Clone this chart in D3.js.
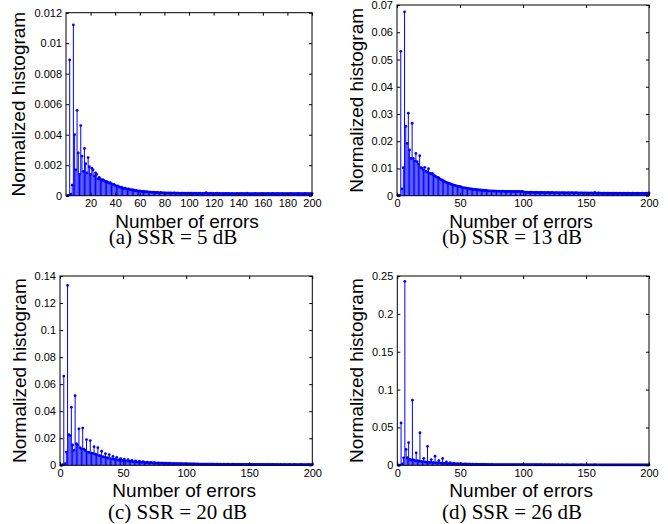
<!DOCTYPE html>
<html>
<head>
<meta charset="utf-8">
<script src="https://cdn.jsdelivr.net/npm/d3@7"></script>
<style>
  body { margin: 0; background: #fff; }
  text { fill: #000; }
</style>
</head>
<body>
<script>
// number of errors on the x axis: 1 .. 200
var errorCounts = d3.range(1, 201);

// normalized histogram, SSR = 5 dB
var histSSR5 = [
  0, 0.00002, 0.0089, 0.0001, 0.0007, 0.0112, 0.0040, 0.0017, 0.0056, 0.0028,
  0.0014, 0.0046, 0.0026, 0.0016, 0.0031, 0.0021, 0.0015, 0.0025, 0.0019, 0.0014,
  0.0018, 0.0017, 0.0013, 0.0015, 0.0014, 0.0011, 0.0012, 0.0011, 0.00100, 0.00105,
  0.00098, 0.00092, 0.00094, 0.00088, 0.00083, 0.00085, 0.00078, 0.00072, 0.00074, 0.00068,
  0.00063, 0.00064, 0.00059, 0.00055, 0.00056, 0.00051, 0.00048, 0.00049, 0.00045, 0.00043,
  0.00044, 0.00040, 0.00038, 0.00039, 0.00036, 0.00034, 0.00035, 0.00032, 0.00030, 0.00031,
  0.00029, 0.00027, 0.00028, 0.00026, 0.00025, 0.00026, 0.00024, 0.00023, 0.00024, 0.00022,
  0.00023, 0.00021, 0.00020, 0.00022, 0.00020, 0.00019, 0.00021, 0.00019, 0.00018, 0.00019,
  0.00018, 0.00017, 0.00019, 0.00017, 0.00018, 0.00016, 0.00017, 0.00018, 0.00016, 0.00017,
  0.00016, 0.00017, 0.00015, 0.00016, 0.00017, 0.00015, 0.00016, 0.00015, 0.00016, 0.00017,
  0.00015, 0.00016, 0.00014, 0.00016, 0.00015, 0.00016, 0.00014, 0.00015, 0.00016, 0.00014,
  0.00015, 0.00014, 0.00016, 0.00020, 0.00015, 0.00014, 0.00015, 0.00016, 0.00014, 0.00015,
  0.00014, 0.00015, 0.00016, 0.00014, 0.00015, 0.00014, 0.00013, 0.00015, 0.00014, 0.00015,
  0.00014, 0.00015, 0.00013, 0.00014, 0.00015, 0.00014, 0.00013, 0.00014, 0.00015, 0.00014,
  0.00013, 0.00014, 0.00015, 0.00014, 0.00013, 0.00014, 0.00016, 0.00014, 0.00013, 0.00014,
  0.00014, 0.00013, 0.00014, 0.00015, 0.00013, 0.00014, 0.00013, 0.00014, 0.00015, 0.00014,
  0.00013, 0.00014, 0.00013, 0.00015, 0.00014, 0.00013, 0.00014, 0.00015, 0.00014, 0.00013,
  0.00014, 0.00015, 0.00014, 0.00013, 0.00014, 0.00015, 0.00014, 0.00013, 0.00014, 0.00013,
  0.00014, 0.00013, 0.00015, 0.00014, 0.00013, 0.00014, 0.00013, 0.00014, 0.00015, 0.00013,
  0.00014, 0.00013, 0.00014, 0.00015, 0.00013, 0.00014, 0.00013, 0.00014, 0.00013, 0.00014
];

// SSR = 13 dB
var histSSR13 = [
  0, 0.0001, 0.053, 0.0025, 0.0103, 0.0675, 0.0255, 0.0192, 0.0303, 0.0168,
  0.0137, 0.0266, 0.0137, 0.0128, 0.0155, 0.0125, 0.0116, 0.0147, 0.0103, 0.0100,
  0.0094, 0.0104, 0.0090, 0.0087, 0.0099, 0.0083, 0.0080, 0.0082, 0.0076, 0.0073,
  0.0070, 0.0067, 0.0066, 0.0062, 0.0059, 0.0057, 0.0054, 0.0052, 0.0049, 0.0047,
  0.0046, 0.0044, 0.0042, 0.0041, 0.0039, 0.0038, 0.0036, 0.0035, 0.0034, 0.0033,
  0.0032, 0.0030, 0.0029, 0.0029, 0.0028, 0.0027, 0.0026, 0.0025, 0.0025, 0.0024,
  0.0023, 0.0023, 0.0022, 0.0022, 0.0021, 0.0021, 0.0020, 0.0020, 0.0019, 0.0019,
  0.0019, 0.0018, 0.0018, 0.0018, 0.0017, 0.0018, 0.0017, 0.0017, 0.0017, 0.0016,
  0.0017, 0.0016, 0.0016, 0.0017, 0.0016, 0.0016, 0.0015, 0.0016, 0.0016, 0.0015,
  0.0016, 0.0015, 0.0016, 0.0015, 0.0016, 0.0015, 0.0016, 0.0015, 0.0016, 0.0015,
  0.0013, 0.0012, 0.0013, 0.0012, 0.0012, 0.0013, 0.0012, 0.0012, 0.0011, 0.0012,
  0.0012, 0.0011, 0.0012, 0.0011, 0.0012, 0.0011, 0.0012, 0.0011, 0.0011, 0.0012,
  0.0011, 0.0011, 0.0012, 0.0011, 0.0010, 0.0011, 0.0011, 0.0010, 0.0011, 0.0010,
  0.0011, 0.0010, 0.0011, 0.0010, 0.0010, 0.0011, 0.0010, 0.0010, 0.0011, 0.0010,
  0.0010, 0.0011, 0.0010, 0.0010, 0.0009, 0.0010, 0.0010, 0.0009, 0.0010, 0.0009,
  0.0010, 0.0009, 0.0009, 0.0010, 0.0009, 0.0009, 0.0012, 0.0009, 0.0009, 0.0010,
  0.0009, 0.0009, 0.0008, 0.0009, 0.0009, 0.0008, 0.0009, 0.0009, 0.0008, 0.0009,
  0.0008, 0.0009, 0.0008, 0.0009, 0.0008, 0.0008, 0.0009, 0.0008, 0.0008, 0.0009,
  0.0008, 0.0008, 0.0009, 0.0008, 0.0008, 0.0008, 0.0009, 0.0008, 0.0008, 0.0008,
  0.0009, 0.0008, 0.0008, 0.0008, 0.0009, 0.0008, 0.0008, 0.0009, 0.0008, 0.0010
];

// SSR = 20 dB
var histSSR20 = [
  0, 0.0005, 0.066, 0.0012, 0.0098, 0.133, 0.0226, 0.022, 0.043, 0.015,
  0.011, 0.0515, 0.016, 0.015, 0.027, 0.013, 0.012, 0.0275, 0.012, 0.011,
  0.019, 0.0098, 0.0095, 0.0183, 0.009, 0.0088, 0.0138, 0.0082, 0.0078, 0.013,
  0.0072, 0.0069, 0.0104, 0.0064, 0.0061, 0.0086, 0.0057, 0.0054, 0.0079, 0.0050,
  0.0048, 0.0066, 0.0045, 0.0043, 0.0059, 0.0040, 0.0038, 0.0050, 0.0036, 0.0034,
  0.0046, 0.0032, 0.0031, 0.0042, 0.0029, 0.0028, 0.0037, 0.0026, 0.0025, 0.0033,
  0.0024, 0.0023, 0.0030, 0.0022, 0.0021, 0.0027, 0.0020, 0.0019, 0.0024, 0.0019,
  0.0018, 0.0021, 0.0017, 0.0017, 0.0019, 0.0016, 0.0016, 0.0018, 0.0015, 0.0015,
  0.0016, 0.0015, 0.0014, 0.0015, 0.0014, 0.0014, 0.0015, 0.0013, 0.0013, 0.0014,
  0.0013, 0.0012, 0.0013, 0.0012, 0.0012, 0.0013, 0.0012, 0.0011, 0.0012, 0.0011,
  0.0011, 0.0011, 0.0010, 0.0011, 0.0010, 0.0010, 0.0011, 0.0009, 0.0010, 0.0009,
  0.0009, 0.0009, 0.0008, 0.0009, 0.0008, 0.0009, 0.0008, 0.0008, 0.0009, 0.0008,
  0.0008, 0.0008, 0.0007, 0.0008, 0.0008, 0.0007, 0.0008, 0.0007, 0.0007, 0.0008,
  0.0007, 0.0007, 0.0008, 0.0007, 0.0007, 0.0007, 0.0008, 0.0007, 0.0007, 0.0007,
  0.0007, 0.0007, 0.0006, 0.0007, 0.0007, 0.0006, 0.0007, 0.0007, 0.0006, 0.0007,
  0.0006, 0.0006, 0.0006, 0.0007, 0.0006, 0.0006, 0.0006, 0.0006, 0.0007, 0.0006,
  0.0006, 0.0006, 0.0005, 0.0006, 0.0006, 0.0006, 0.0005, 0.0006, 0.0006, 0.0005,
  0.0006, 0.0005, 0.0006, 0.0005, 0.0006, 0.0005, 0.0005, 0.0006, 0.0005, 0.0005,
  0.0005, 0.0006, 0.0005, 0.0005, 0.0005, 0.0006, 0.0005, 0.0005, 0.0005, 0.0005,
  0.0006, 0.0005, 0.0005, 0.0005, 0.0005, 0.0005, 0.0006, 0.0005, 0.0005, 0.0005
];

// SSR = 26 dB
var histSSR26 = [
  0, 0.0003, 0.056, 0.002, 0.0099, 0.243, 0.021, 0.010, 0.030, 0.008,
  0.007, 0.086, 0.007, 0.006, 0.0165, 0.006, 0.0055, 0.043, 0.005, 0.0048,
  0.0092, 0.0045, 0.0042, 0.025, 0.0040, 0.0038, 0.0075, 0.0036, 0.0034, 0.012,
  0.0032, 0.0031, 0.0062, 0.0029, 0.0028, 0.0090, 0.0026, 0.0025, 0.0045, 0.0023,
  0.0022, 0.0035, 0.0021, 0.0020, 0.0030, 0.0019, 0.0018, 0.0022, 0.0017, 0.0017,
  0.0019, 0.0016, 0.0015, 0.0017, 0.0015, 0.0014, 0.0016, 0.0014, 0.0013, 0.0015,
  0.0013, 0.0012, 0.0014, 0.0012, 0.0012, 0.0013, 0.0011, 0.0011, 0.0012, 0.0011,
  0.0010, 0.0011, 0.0010, 0.0010, 0.0011, 0.0010, 0.0009, 0.0010, 0.0009, 0.0009,
  0.0010, 0.0009, 0.0009, 0.0009, 0.0008, 0.0009, 0.0008, 0.0009, 0.0008, 0.0008,
  0.0009, 0.0008, 0.0008, 0.0008, 0.0007, 0.0008, 0.0008, 0.0007, 0.0008, 0.0012,
  0.0007, 0.0008, 0.0007, 0.0007, 0.0008, 0.0007, 0.0007, 0.0007, 0.0008, 0.0007,
  0.0007, 0.0007, 0.0010, 0.0007, 0.0007, 0.0006, 0.0007, 0.0007, 0.0006, 0.0007,
  0.0007, 0.0006, 0.0007, 0.0006, 0.0007, 0.0006, 0.0006, 0.0007, 0.0006, 0.0006,
  0.0007, 0.0006, 0.0006, 0.0006, 0.0007, 0.0006, 0.0006, 0.0006, 0.0006, 0.0007,
  0.0006, 0.0006, 0.0006, 0.0006, 0.0006, 0.0007, 0.0006, 0.0006, 0.0006, 0.0006,
  0.0006, 0.0006, 0.0006, 0.0006, 0.0006, 0.0006, 0.0010, 0.0006, 0.0006, 0.0006,
  0.0006, 0.0006, 0.0005, 0.0006, 0.0006, 0.0006, 0.0005, 0.0006, 0.0006, 0.0005,
  0.0006, 0.0005, 0.0006, 0.0006, 0.0005, 0.0006, 0.0005, 0.0006, 0.0005, 0.0006,
  0.0005, 0.0006, 0.0005, 0.0005, 0.0006, 0.0005, 0.0006, 0.0005, 0.0005, 0.0006,
  0.0005, 0.0006, 0.0005, 0.0005, 0.0006, 0.0005, 0.0005, 0.0006, 0.0005, 0.0006
];

var yTicksSSR5 = [0, 0.002, 0.004, 0.006, 0.008, 0.01, 0.012];
var yTicksSSR13 = [0, 0.01, 0.02, 0.03, 0.04, 0.05, 0.06, 0.07];
var yTicksSSR20 = [0, 0.02, 0.04, 0.06, 0.08, 0.1, 0.12, 0.14];
var yTicksSSR26 = [0, 0.05, 0.1, 0.15, 0.2, 0.25];
var xTicksFine = [20, 40, 60, 80, 100, 120, 140, 160, 180, 200];
var xTicksCoarse = [0, 50, 100, 150, 200];

var captions = ["(a) SSR = 5 dB", "(b) SSR = 13 dB", "(c) SSR = 20 dB", "(d) SSR = 26 dB"];
var xTitle = "Number of errors";
var yTitle = "Normalized histogram";

var panels = [
  { box: {left: 66, right: 312, top: 12.7, bottom: 195.7}, values: histSSR5, yTicks: yTicksSSR5, xTicks: xTicksFine, caption: captions[0], capX: 173, capY: 244 },
  { box: {left: 397, right: 649, top: 5, bottom: 195.7}, values: histSSR13, yTicks: yTicksSSR13, xTicks: xTicksCoarse, caption: captions[1], capX: 512, capY: 244 },
  { box: {left: 60, right: 312.3, top: 276, bottom: 465.3}, values: histSSR20, yTicks: yTicksSSR20, xTicks: xTicksCoarse, caption: captions[2], capX: 177.5, capY: 518.5 },
  { box: {left: 397.3, right: 649, top: 276, bottom: 465.3}, values: histSSR26, yTicks: yTicksSSR26, xTicks: xTicksCoarse, caption: captions[3], capX: 512, capY: 518.5 }
];

var stemColor = "#0000ff";
var sansFont = "'Liberation Sans', Arial, Helvetica, sans-serif";
var serifFont = "'Liberation Serif', 'Times New Roman', serif";

var svg = d3.select("body").append("svg")
    .attr("width", 668)
    .attr("height", 524);

function fmtTick(d) { return String(+d.toFixed(4)); }

function drawPanel(p) {
  var b = p.box;
  var yMax = p.yTicks[p.yTicks.length - 1];

  var x = d3.scaleLinear().domain([0, 200]).range([b.left, b.right]);
  var y = d3.scaleLinear().domain([0, yMax]).range([b.bottom, b.top]);

  var g = svg.append("g");

  // stems
  var pts = errorCounts.map(function(c, i) { return {n: c, v: p.values[i]}; });

  g.append("g").selectAll("line")
    .data(pts)
    .enter().append("line")
    .attr("x1", function(d) { return x(d.n); })
    .attr("x2", function(d) { return x(d.n); })
    .attr("y1", y(0))
    .attr("y2", function(d) { return y(d.v); })
    .attr("stroke", stemColor)
    .attr("stroke-width", 1);

  g.append("g").selectAll("circle")
    .data(pts)
    .enter().append("circle")
    .attr("cx", function(d) { return x(d.n); })
    .attr("cy", function(d) { return y(d.v); })
    .attr("r", 1.4)
    .attr("fill", stemColor);

  // axes, matlab style: ticks inside on all four sides
  g.append("g")
    .attr("transform", "translate(0," + b.bottom + ")")
    .call(d3.axisBottom(x).tickValues(p.xTicks).tickSizeInner(-3).tickSizeOuter(0).tickPadding(4).tickFormat(fmtTick));
  var yAxis = g.append("g")
    .attr("transform", "translate(" + b.left + ",0)")
    .call(d3.axisLeft(y).tickValues(p.yTicks).tickSizeInner(-3).tickSizeOuter(0).tickPadding(4).tickFormat(fmtTick));
  g.append("g")
    .attr("transform", "translate(0," + b.top + ")")
    .call(d3.axisTop(x).tickValues(p.xTicks).tickSizeInner(-3).tickSizeOuter(0).tickFormat(""));
  g.append("g")
    .attr("transform", "translate(" + b.right + ",0)")
    .call(d3.axisRight(y).tickValues(p.yTicks).tickSizeInner(-3).tickSizeOuter(0).tickFormat(""));

  g.selectAll(".domain").remove();
  g.selectAll(".tick line").attr("stroke", "#000");
  g.selectAll(".tick text")
    .style("font-family", sansFont)
    .style("font-size", "11px")
    .attr("fill", "#000");

  g.append("rect")
    .attr("x", b.left)
    .attr("y", b.top)
    .attr("width", b.right - b.left)
    .attr("height", b.bottom - b.top)
    .attr("fill", "none")
    .attr("stroke", "#000")
    .attr("stroke-width", 1);

  // titles
  var labelLeft = yAxis.node().getBBox().x;
  var yTitleX = b.left + labelLeft - 9;
  g.append("text")
    .attr("transform", "translate(" + yTitleX + "," + ((b.top + b.bottom) / 2) + ") rotate(-90)")
    .attr("text-anchor", "middle")
    .style("font-family", sansFont)
    .style("font-size", "19px")
    .text(yTitle);

  g.append("text")
    .attr("x", (b.left + b.right) / 2 - 2)
    .attr("y", b.bottom + 32)
    .attr("text-anchor", "middle")
    .style("font-family", sansFont)
    .style("font-size", "19px")
    .text(xTitle);

  g.append("text")
    .attr("x", p.capX)
    .attr("y", p.capY)
    .attr("text-anchor", "middle")
    .style("font-family", serifFont)
    .style("font-size", "21px")
    .text(p.caption);
}

panels.forEach(drawPanel);
</script>
</body>
</html>
